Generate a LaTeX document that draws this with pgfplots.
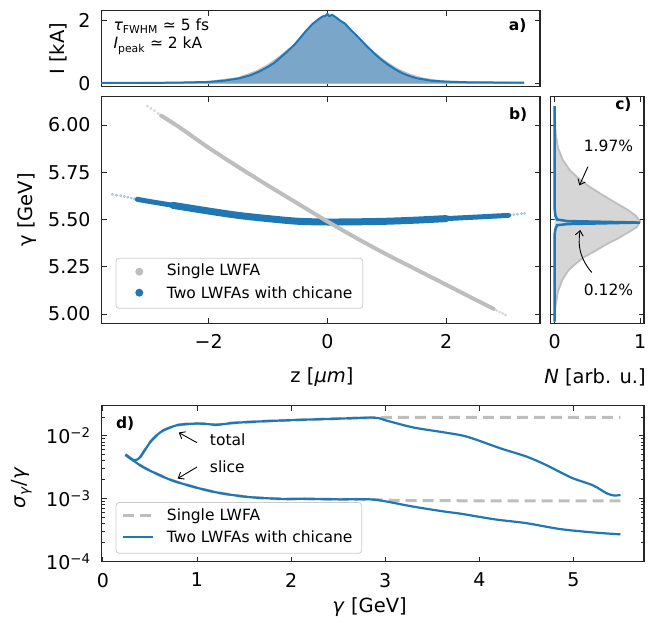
\documentclass[border=0pt]{standalone}
\usepackage{fontspec}
\setmainfont{DejaVu Sans}[ItalicFont={DejaVu Sans Oblique},BoldFont={DejaVu Sans Bold}]
\usepackage{pgfplots}
\usepackage{pgfplotstable}
\pgfplotsset{compat=1.18}
\usetikzlibrary{arrows.meta}

\definecolor{tabblue}{HTML}{1F77B4}
\definecolor{lgray}{HTML}{BEBEBE}
\definecolor{fillblue}{HTML}{79A6C9}
\definecolor{fillgray}{HTML}{D6D6D6}
\definecolor{axgray}{HTML}{262626}

\newcommand{\lbl}{\fontsize{19.5}{23}\selectfont}
\newcommand{\sml}{\fontsize{15.5}{18}\selectfont}

% current profiles (panel a)
\pgfplotstableread{
z I
-3.80 0.01
-3.00 0.01
-2.50 0.02
-2.00 0.04
-1.75 0.08
-1.50 0.15
-1.30 0.25
-1.15 0.37
-1.00 0.52
-0.90 0.64
-0.80 0.80
-0.68 1.00
-0.55 1.23
-0.44 1.48
-0.35 1.68
-0.25 1.88
-0.15 2.03
-0.08 2.12
-0.03 2.14
0.00 2.20
0.03 2.13
0.08 2.17
0.15 2.08
0.22 1.98
0.29 1.90
0.40 1.68
0.53 1.44
0.65 1.20
0.78 0.96
0.90 0.76
1.02 0.59
1.15 0.43
1.26 0.32
1.38 0.23
1.50 0.16
1.75 0.08
2.00 0.05
2.35 0.03
3.00 0.02
3.31 0.02
}\curblue
\pgfplotstableread{
z I
-3.80 0.01
-2.50 0.02
-2.00 0.05
-1.50 0.17
-1.20 0.38
-1.00 0.58
-0.80 0.85
-0.60 1.15
-0.40 1.50
-0.20 1.78
-0.10 1.88
0.00 1.92
0.10 1.90
0.20 1.82
0.40 1.58
0.60 1.25
0.80 0.95
1.00 0.66
1.20 0.43
1.40 0.27
1.60 0.16
1.80 0.10
2.00 0.06
2.50 0.03
3.31 0.02
}\curgray

% sigma_gamma/gamma (panel d)
\pgfplotstableread{
g s
0.24 0.00503
0.28 0.00455
0.326 0.00410
0.36 0.00418
0.397 0.00462
0.43 0.00550
0.468 0.00667
0.50 0.0079
0.538 0.0091
0.59 0.0108
0.645 0.0123
0.72 0.0137
0.787 0.0148
0.88 0.0154
1.00 0.0157
1.10 0.0155
1.195 0.0150
1.30 0.0155
1.39 0.0161
1.745 0.0172
2.10 0.0180
2.50 0.0188
2.88 0.0195
3.20 0.0197
4.00 0.0197
5.00 0.0197
5.50 0.0197
}\totgray
\pgfplotstableread{
g s
0.24 0.00503
0.28 0.00455
0.326 0.00410
0.36 0.00418
0.397 0.00462
0.43 0.00550
0.468 0.00667
0.50 0.0079
0.538 0.0091
0.59 0.0108
0.645 0.0123
0.72 0.0137
0.787 0.0148
0.88 0.0154
1.00 0.0157
1.10 0.0155
1.195 0.0150
1.30 0.0155
1.39 0.0161
1.745 0.0172
2.10 0.0180
2.50 0.0188
2.88 0.0195
3.02 0.0174
3.30 0.0136
3.62 0.0114
3.87 0.0097
4.23 0.0063
4.50 0.0047
4.70 0.0035
4.86 0.00265
5.00 0.0021
5.21 0.00163
5.35 0.00123
5.43 0.00113
5.50 0.00115
}\totblue
\pgfplotstableread{
g s
0.24 0.00503
0.30 0.00430
0.397 0.00340
0.50 0.00280
0.61 0.00235
0.70 0.00205
0.822 0.00178
1.035 0.00145
1.25 0.00123
1.567 0.00106
1.957 0.00099
2.10 0.00100
2.50 0.00098
2.88 0.00097
3.20 0.00094
4.00 0.00093
5.50 0.00093
}\slcgray
\pgfplotstableread{
g s
0.24 0.00503
0.30 0.00430
0.397 0.00340
0.50 0.00280
0.61 0.00235
0.70 0.00205
0.822 0.00178
1.035 0.00145
1.25 0.00123
1.567 0.00106
1.957 0.00099
2.10 0.00100
2.50 0.00098
2.88 0.00097
3.30 0.00075
3.62 0.00063
3.80 0.00058
4.17 0.00047
4.50 0.00041
4.86 0.00033
5.21 0.000292
5.50 0.000272
}\slcblue

\pgfplotsset{
  panel/.style={
    scale only axis, anchor=south west,
    axis line style={axgray, line width=1.1pt},
    tick style={axgray, line width=0.9pt},
    major tick length=5pt, minor tick length=3pt,
    tick align=inside,
    ticklabel style={font=\fontsize{19}{22}\selectfont, inner sep=0pt},
    xticklabel shift=11pt, yticklabel shift=11pt,
    label style={font=\lbl},
    /pgf/number format/assume math mode=true,
    xlabel style={anchor=center}, ylabel style={anchor=center},
  },
}
\tikzset{
  note/.style={font=\sml},
  arr/.style={draw=black, line width=0.9pt, -{Straight Barb[length=5pt,width=8pt]}},
  legbox/.style={draw=black!20, line width=0.8pt, rounded corners=3pt, fill=white, fill opacity=0.8},
}

\begin{document}
\begin{tikzpicture}
\useasboundingbox (0,0) rectangle (660pt,622pt);

% ---- a) current
\begin{axis}[panel, at={(101.7pt,535.3pt)}, width=438.3pt, height=76pt,
  xmin=-3.80, xmax=3.58, ymin=-0.11, ymax=2.30,
  xtick={-2,0,2}, xticklabels={},
  ytick={0,2},
  ylabel={I [kA]}, ylabel style={at={(axis description cs:-0.0997,0.5)}},
]
\addplot[fill=fillgray, draw=lgray, line width=1.5pt] table[x=z,y=I] {\curgray} \closedcycle;
\addplot[fill=fillblue, draw=none] table[x=z,y=I] {\curblue} \closedcycle;
\addplot[tabblue, line width=2pt] table[x=z,y=I] {\curblue};
\node[note, anchor=west] at (axis description cs:0.019,0.80) {\textit{τ}\textsubscript{FWHM} ≃ 5 fs};
\node[note, anchor=west] at (axis description cs:0.019,0.54) {\textit{I}\textsubscript{peak} ≃ 2 kA};
\node[note, anchor=east, font=\sml\bfseries] at (axis description cs:0.977,0.80) {a)};
\end{axis}

% ---- b) longitudinal phase space
\begin{axis}[panel, at={(101.7pt,298.7pt)}, width=438.3pt, height=226.6pt,
  xmin=-3.80, xmax=3.58, ymin=4.951, ymax=6.150,
  xtick={-2,0,2}, xticklabels={−2,0,2},
  ytick={5,5.25,5.5,5.75,6}, yticklabels={5.00,5.25,5.50,5.75,6.00},
  xlabel={z [\textit{μm}]}, xlabel style={at={(axis description cs:0.5026,-0.237)}},
  ylabel={γ [GeV]}, ylabel style={at={(axis description cs:-0.1704,0.5)}},
]
% two LWFAs
\addplot[only marks, mark=*, mark size=1.3pt, tabblue, opacity=0.3] coordinates {
(-3.62,5.633) (-3.55,5.629) (-3.48,5.626) (-3.42,5.622) (-3.36,5.618) (-3.30,5.614) (-3.25,5.610)
(3.08,5.524) (3.14,5.526) (3.20,5.528) (3.27,5.531) (3.32,5.533)};
\addplot[tabblue, line width=5pt, line cap=round, smooth] coordinates {
(-3.20,5.607) (-3.00,5.596) (-2.50,5.570) (-2.00,5.545) (-1.50,5.522) (-1.00,5.505)
(-0.50,5.491) (0.00,5.487) (0.50,5.488) (1.00,5.491) (1.50,5.497) (2.00,5.505)
(2.50,5.513) (3.05,5.522)};
\addplot[tabblue, line width=7pt, line cap=round, smooth] coordinates {
(-2.60,5.575) (-2.00,5.545) (-1.50,5.522) (-1.00,5.505) (-0.50,5.491) (0.00,5.487) (0.50,5.488)
(1.00,5.491) (1.50,5.497) (2.00,5.505)};
% single LWFA
\addplot[only marks, mark=*, mark size=1.3pt, lgray, opacity=0.5] coordinates {
(-3.03,6.100) (-2.97,6.088) (-2.91,6.076) (-2.85,6.062)
(2.85,5.019) (2.90,5.011) (2.95,5.003) (3.00,4.995)};
\addplot[lgray, line width=4pt, line cap=round, smooth] coordinates {
(-2.80,6.050) (-2.50,5.990) (-2.00,5.880) (-1.50,5.778) (-1.00,5.680) (-0.50,5.585)
(0.00,5.490) (0.50,5.400) (1.00,5.315) (1.50,5.235) (2.00,5.155) (2.50,5.075) (2.80,5.027)};
% legend
\draw[legbox] (axis description cs:0.0326,0.0662) rectangle (axis description cs:0.5955,0.2868);
\fill[lgray] (axis description cs:0.0858,0.2277) circle (4pt);
\fill[tabblue] (axis description cs:0.0858,0.135) circle (4pt);
\node[note, anchor=west, inner sep=0pt] at (axis description cs:0.1483,0.2277) {Single LWFA};
\node[note, anchor=west, inner sep=0pt] at (axis description cs:0.1483,0.135) {Two LWFAs with chicane};
\node[note, anchor=east, font=\sml\bfseries] at (axis description cs:0.979,0.919) {b)};
\end{axis}

% ---- c) energy spectra
\begin{axis}[panel, at={(550.7pt,298.7pt)}, width=93.3pt, height=226.6pt,
  xmin=-0.045, xmax=1.045, ymin=4.951, ymax=6.150,
  xtick={0,1}, ytick={5,5.25,5.5,5.75,6}, yticklabels={},
  xlabel={\textit{N} [arb. u.]}, xlabel style={at={(axis description cs:0.475,-0.237)}},
]
\addplot[fill=fillgray, draw=lgray, line width=1.8pt] coordinates {
(0,6.10) (0.005,6.02) (0.015,5.95) (0.04,5.88) (0.09,5.82) (0.18,5.76) (0.30,5.71)
(0.42,5.67) (0.56,5.63) (0.67,5.60) (0.86,5.55) (0.95,5.52) (1.00,5.49) (0.96,5.46)
(0.89,5.44) (0.74,5.40) (0.61,5.37) (0.46,5.33) (0.34,5.30) (0.23,5.26) (0.16,5.23)
(0.09,5.18) (0.04,5.12) (0.01,5.04) (0,4.96)};
\addplot[tabblue, line width=2.5pt] coordinates {
(0,6.10) (0,5.56) (0.01,5.52) (0.03,5.50) (0.15,5.492) (1.00,5.484) (0.15,5.476)
(0.03,5.47) (0.01,5.45) (0,5.42) (0,4.96)};
\node[note] at (axis cs:0.63,5.89) {1.97\%};
\draw[arr] (axis cs:0.39,5.78) -- (axis cs:0.29,5.68);
\node[note] at (axis cs:0.63,5.13) {0.12\%};
\draw[arr] (axis cs:0.435,5.22) to[bend left=25] (axis cs:0.30,5.445);
\node[note, anchor=east, font=\sml\bfseries] at (axis description cs:0.904,0.963) {c)};
\end{axis}

% ---- d) energy spread
\begin{axis}[panel, ymode=log, at={(101.7pt,60.3pt)}, width=542.3pt, height=156pt,
  xmin=-0.013, xmax=5.75, ymin=1e-4, ymax=0.0302,
  xtick={0,1,2,3,4,5},
  ytick={1e-4,1e-3,1e-2},
  yticklabels={10\textsuperscript{−4},10\textsuperscript{−3},10\textsuperscript{−2}},
  minor ytick={2e-4,3e-4,4e-4,5e-4,6e-4,7e-4,8e-4,9e-4,2e-3,3e-3,4e-3,5e-3,6e-3,7e-3,8e-3,9e-3,2e-2,3e-2},
  xlabel={\textit{γ} [GeV]}, xlabel style={at={(axis description cs:0.494,-0.29)}},
  ylabel={\textit{σ}\textsubscript{\textit{γ}}/\textit{γ}}, ylabel style={at={(axis description cs:-0.1475,0.472)}},
]
\addplot[lgray, line width=3pt, dash pattern=on 11pt off 6pt, smooth] table[x=g,y=s] {\totgray};
\addplot[lgray, line width=3pt, dash pattern=on 11pt off 6pt, smooth] table[x=g,y=s] {\slcgray};
\addplot[tabblue, line width=2.2pt, smooth] table[x=g,y=s] {\totblue};
\addplot[tabblue, line width=2.2pt, smooth] table[x=g,y=s] {\slcblue};
\node[note, anchor=west] at (axis cs:1.10,0.00875) {total};
\draw[arr] (axis cs:1.0,0.0078) -- (axis cs:0.805,0.0113);
\node[note, anchor=west] at (axis cs:1.10,0.0032) {slice};
\draw[arr] (axis cs:1.0,0.0032) -- (axis cs:0.794,0.0021);
% legend
\draw[legbox] (axis description cs:0.0264,0.054) rectangle (axis description cs:0.4794,0.3795);
\draw[lgray, line width=3pt, dash pattern=on 11pt off 6pt] (axis description cs:0.0399,0.293) -- (axis description cs:0.0952,0.293);
\draw[tabblue, line width=2.2pt] (axis description cs:0.0399,0.160) -- (axis description cs:0.0952,0.160);
\node[note, anchor=west, inner sep=0pt] at (axis description cs:0.1199,0.293) {Single LWFA};
\node[note, anchor=west, inner sep=0pt] at (axis description cs:0.1199,0.160) {Two LWFAs with chicane};
\node[note, anchor=west, font=\sml\bfseries] at (axis description cs:0.02,0.887) {d)};
\end{axis}
\end{tikzpicture}
\end{document}
